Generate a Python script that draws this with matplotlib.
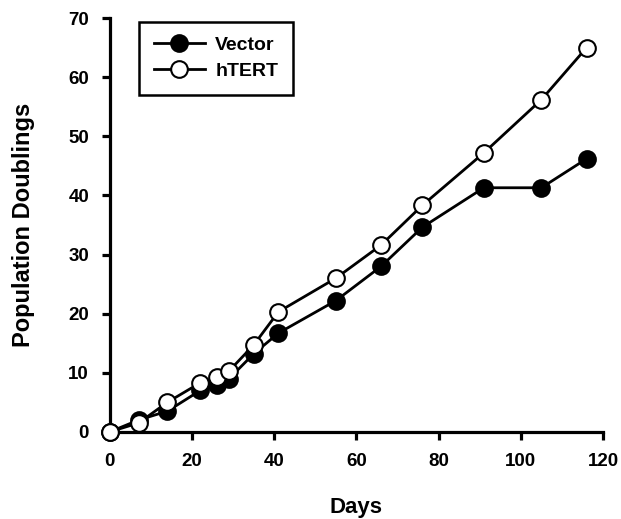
import matplotlib
matplotlib.use("Agg")
import matplotlib.pyplot as plt

# data
days = [0, 7, 14, 22, 26, 29, 35, 41, 55, 66, 76, 91, 105, 116]
vector = [0, 2, 3.5, 7, 8, 9, 13.2, 16.7, 22.2, 28, 34.6, 41.3, 41.3, 46.2]
htert = [0, 1.5, 5, 8.3, 9.2, 10.3, 14.7, 20.3, 26, 31.6, 38.3, 47.2, 56.2, 65]
xticks = [0, 20, 40, 60, 80, 100, 120]
yticks = [0, 10, 20, 30, 40, 50, 60, 70]

plt.rcParams['font.family'] = ['Liberation Sans', 'DejaVu Sans']
plt.rcParams['font.weight'] = 'bold'

fig = plt.figure(figsize=(6.21, 5.19), dpi=100)
ax = fig.add_axes([0.177, 0.168, 0.794, 0.797])

ax.plot(days, vector, '-o', color='black', lw=2, ms=12,
        mfc='black', mec='black', mew=1.5, label='Vector', zorder=3)
ax.plot(days, htert, '-o', color='black', lw=2, ms=12,
        mfc='white', mec='black', mew=1.5, label='hTERT', zorder=4)

ax.set_xlim(0, 120)
ax.set_ylim(0, 70)
ax.set_xticks(xticks)
ax.set_yticks(yticks)
for s in ['top', 'right']:
    ax.spines[s].set_visible(False)
for s in ['left', 'bottom']:
    ax.spines[s].set_linewidth(2.3)
ax.tick_params(width=2.3, length=6, labelsize=13.5, pad=9)
for lab in ax.get_xticklabels() + ax.get_yticklabels():
    lab.set_fontweight('bold')
for ln in ax.lines:
    ln.set_clip_on(False)

ax.set_xlabel('Days', fontsize=16, fontweight='bold', labelpad=20)
ax.set_ylabel('Population Doublings', fontsize=17, fontweight='bold', labelpad=24)

leg = ax.legend(loc='upper left', bbox_to_anchor=(0.04, 1.015), fancybox=False,
                edgecolor='black', framealpha=1, fontsize=14, handlelength=2.6,
                borderpad=0.75, labelspacing=0.45, handletextpad=0.55)
leg.get_frame().set_linewidth(1.8)
for t in leg.get_texts():
    t.set_fontweight('bold')

fig.savefig('out.png', dpi=100)
